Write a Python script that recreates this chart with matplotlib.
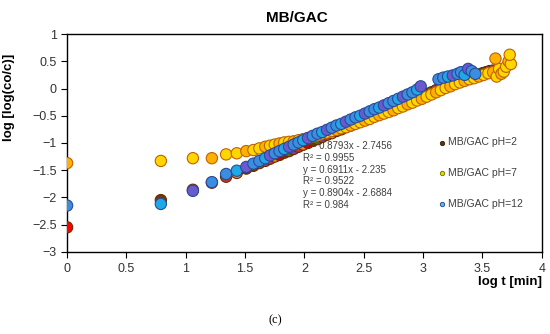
import matplotlib
matplotlib.use("Agg")
from matplotlib import pyplot as plt

plt.rcParams['font.family'] = ['Liberation Sans', 'DejaVu Sans']

# MB/GAC pH=2
x_ph2 = [0, 0.79, 1.06, 1.22, 1.34, 1.43, 1.51, 1.57, 1.62, 1.67, 1.71, 1.75, 1.79,
         1.83, 1.87, 1.91, 1.95, 1.99, 2.03, 2.07, 2.11, 2.15, 2.19, 2.23, 2.27, 2.31,
         2.35, 2.39, 2.43, 2.47, 2.51, 2.55, 2.59, 2.63, 2.67, 2.71, 2.75, 2.79, 2.83,
         2.87, 2.91, 2.95, 2.99, 3.03, 3.07, 3.11, 3.15, 3.19, 3.23, 3.27, 3.31, 3.35,
         3.39, 3.43, 3.47, 3.50, 3.53, 3.56, 3.59]
y_ph2 = [-2.55, -2.05, -1.86, -1.73, -1.62, -1.55, -1.47, -1.42, -1.37, -1.33, -1.29,
         -1.25, -1.22, -1.18, -1.15, -1.11, -1.07, -1.03, -1.00, -0.96, -0.93, -0.89,
         -0.85, -0.82, -0.78, -0.75, -0.71, -0.68, -0.64, -0.60, -0.57, -0.53, -0.50,
         -0.46, -0.43, -0.39, -0.35, -0.32, -0.28, -0.25, -0.21, -0.17, -0.14, -0.10,
         -0.07, -0.03, 0.01, 0.04, 0.08, 0.11, 0.14, 0.17, 0.20, 0.22, 0.25, 0.28,
         0.30, 0.32, 0.33]

# MB/GAC pH=7
x_ph7 = [0, 0.79, 1.06, 1.22, 1.34, 1.43, 1.51, 1.57, 1.62, 1.67, 1.71, 1.75, 1.79,
         1.83, 1.87, 1.91, 1.95, 1.99, 2.03, 2.07, 2.11, 2.15, 2.19, 2.23, 2.27, 2.31,
         2.35, 2.39, 2.43, 2.47, 2.51, 2.55, 2.59, 2.63, 2.67, 2.71, 2.75, 2.79, 2.83,
         2.87, 2.91, 2.95, 2.99, 3.03, 3.07, 3.11, 3.15, 3.19, 3.23, 3.27, 3.31, 3.35,
         3.39, 3.43, 3.47, 3.51, 3.55, 3.59, 3.62, 3.64, 3.66, 3.68, 3.70, 3.72, 3.74,
         3.73, 3.61]
y_ph7 = [-1.37, -1.33, -1.28, -1.28, -1.21, -1.19, -1.15, -1.13, -1.10, -1.07, -1.05,
         -1.03, -1.01, -0.99, -0.98, -0.97, -0.95, -0.93, -0.91, -0.88, -0.86, -0.83,
         -0.81, -0.78, -0.76, -0.73, -0.71, -0.68, -0.65, -0.62, -0.59, -0.56, -0.52,
         -0.49, -0.46, -0.43, -0.40, -0.36, -0.33, -0.29, -0.26, -0.22, -0.19, -0.15,
         -0.11, -0.07, -0.03, 0.01, 0.04, 0.08, 0.11, 0.14, 0.17, 0.19, 0.22, 0.25,
         0.28, 0.30, 0.22, 0.36, 0.27, 0.31, 0.40, 0.50, 0.45, 0.62, 0.55]

# MB/GAC pH=12
x_ph12 = [0, 0.79, 1.06, 1.22, 1.34, 1.43, 1.51, 1.57, 1.62, 1.67, 1.71, 1.75, 1.79,
          1.83, 1.87, 1.91, 1.95, 1.99, 2.03, 2.07, 2.11, 2.15, 2.19, 2.23, 2.27, 2.31,
          2.35, 2.39, 2.43, 2.47, 2.51, 2.55, 2.59, 2.63, 2.67, 2.71, 2.75, 2.79, 2.83,
          2.87, 2.91, 2.95, 2.98, 3.13, 3.17, 3.21, 3.25, 3.29, 3.32, 3.35, 3.38, 3.41,
          3.44]
y_ph12 = [-2.15, -2.12, -1.88, -1.72, -1.57, -1.51, -1.44, -1.38, -1.33, -1.28, -1.23,
          -1.19, -1.15, -1.11, -1.07, -1.03, -0.99, -0.95, -0.91, -0.87, -0.83, -0.80,
          -0.76, -0.72, -0.68, -0.65, -0.61, -0.57, -0.53, -0.50, -0.46, -0.42, -0.38,
          -0.35, -0.31, -0.27, -0.23, -0.19, -0.15, -0.11, -0.07, -0.02, 0.04, 0.17,
          0.20, 0.22, 0.24, 0.27, 0.30, 0.25, 0.36, 0.32, 0.27]

x_ticks = [0, 0.5, 1, 1.5, 2, 2.5, 3, 3.5, 4]
x_tick_labels = ['0', '0.5', '1', '1.5', '2', '2.5', '3', '3.5', '4']
y_ticks = [-3, -2.5, -2, -1.5, -1, -0.5, 0, 0.5, 1]
y_tick_labels = ['\u22123', '\u22122.5', '\u22122', '\u22121.5', '\u22121', '\u22120.5',
                 '0', '0.5', '1']

fit_lines = ['y = 0.8793x - 2.7456', 'R\u00b2 = 0.9955',
             'y = 0.6911x - 2.235', 'R\u00b2 = 0.9522',
             'y = 0.8904x - 2.6884', 'R\u00b2 = 0.984']

ph2_colors = ['#d00000', '#6b3a12', '#4f6b1f', '#7a3fa0', '#c0392b', '#ff8c00']
ph12_colors = ['#3a8ee0', '#1fa8e6', '#6a5acd', '#3a8ee0']

fig = plt.figure(figsize=(5.5, 3.34), dpi=100)
ax = fig.add_axes([0.122, 0.246, 0.863, 0.652])

fc2 = [ph2_colors[i % len(ph2_colors)] for i in range(len(x_ph2))]
fc2[0] = '#ff0000'
fc7 = ['#ffd700' if i % 3 else '#ffb000' for i in range(len(x_ph7))]
fc12 = [ph12_colors[i % len(ph12_colors)] for i in range(len(x_ph12))]

ax.scatter(x_ph2, y_ph2, s=66, c=fc2, edgecolors='#6b2a00', linewidths=0.8, zorder=3)
ax.scatter(x_ph7, y_ph7, s=66, c=fc7, edgecolors='#c06000', linewidths=0.8, zorder=4)
ax.scatter(x_ph12, y_ph12, s=66, c=fc12, edgecolors='#2a4a9a', linewidths=0.8, zorder=5)

# legend handles
ax.scatter([], [], s=10, c='#5a3415', edgecolors='#3a2000', linewidths=0.6, label='MB/GAC pH=2')
ax.scatter([], [], s=10, c='#e8d800', edgecolors='#6b6b00', linewidths=0.6, label='MB/GAC pH=7')
ax.scatter([], [], s=10, c='#40c8e8', edgecolors='#203c9a', linewidths=0.6, label='MB/GAC pH=12')
ax.legend(loc='upper left', bbox_to_anchor=(0.77, 0.55), frameon=False, fontsize=7.5,
          labelspacing=2.0, handletextpad=0.2, handlelength=0.8, borderpad=0,
          labelcolor='#404040')

for i, line in enumerate(fit_lines):
    ax.text(1.99, -1.06 - i * 0.215, line, fontsize=7, color='#404040',
            va='center', ha='left', zorder=2)

ax.set_xlim(0, 4)
ax.set_ylim(-3, 1)
ax.set_xticks(x_ticks)
ax.set_xticklabels(x_tick_labels)
ax.set_yticks(y_ticks)
ax.set_yticklabels(y_tick_labels)
ax.tick_params(axis='both', direction='out', length=4, width=0.8, labelsize=9,
               colors='black', labelcolor='#333333')
ax.tick_params(axis='x', pad=4)
for sp in ax.spines.values():
    sp.set_linewidth(1.0)
    sp.set_color('black')

ax.set_title('MB/GAC', fontsize=11, fontweight='bold', pad=9, x=0.485)
ax.set_xlabel('log t [min]', fontsize=9.5, fontweight='bold', loc='right')
ax.xaxis.set_label_coords(1.0, -0.11)
ax.set_ylabel('log [log(co/c)]', fontsize=9.5, fontweight='bold')
ax.yaxis.set_label_coords(-0.11, 0.71)

fig.text(0.5, 0.04, '(c)', fontsize=9, family=['Liberation Serif', 'DejaVu Serif'],
         ha='center', va='center')

fig.savefig('out.png', dpi=100)
